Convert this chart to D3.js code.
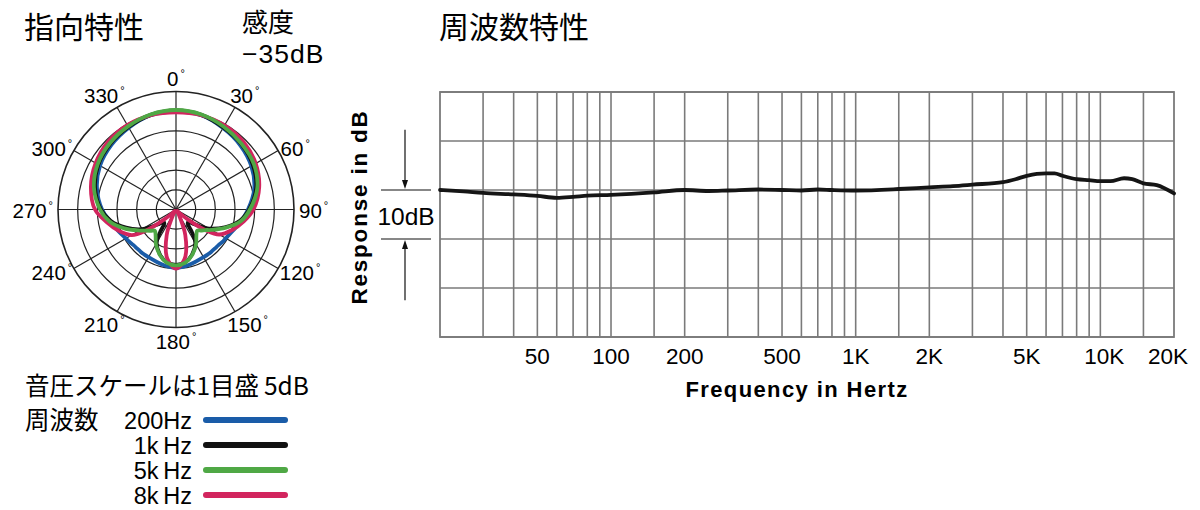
<!DOCTYPE html>
<html><head><meta charset="utf-8">
<script src="https://cdn.jsdelivr.net/npm/d3@7"></script>
<style>body{margin:0;background:#fff} svg{display:block}</style>
</head><body><svg id="c" width="1200" height="510"></svg>
<script>
// ---------- Polar (directional) data: dB relative, -30 = centre, 0 = outer ring ----------
const polarAngles = [0,15,30,45,60,75,90,100,110,120,125,130,135,140,145,150,160,170,180,
                     190,200,210,215,220,225,230,235,240,250,260,270,285,300,315,330,345];
const polar200Hz = [-5.1,-5.2,-6.1,-6.9,-7.9,-9.4,-11.7,-13.2,-14.5,-15.4,-15.6,-15.9,-16.0,-16.0,-16.0,-16.0,-15.8,-15.4,-15.1,
                    -15.4,-15.8,-16.0,-16.0,-16.0,-16.0,-15.9,-15.6,-15.3,-14.3,-13.0,-11.2,-9.2,-7.7,-6.8,-6.0,-5.2];
const polar1kHz  = [-4.8,-5.1,-5.9,-6.5,-7.4,-8.9,-11.4,-13.5,-16.8,-20.3,-22.6,-24.4,-25.5,-25.4,-22.9,-20.2,-17.9,-16.4,-15.9,
                    -16.4,-17.9,-20.2,-22.9,-25.4,-25.5,-24.2,-22.3,-20.0,-16.5,-13.2,-10.9,-8.7,-7.2,-6.4,-5.8,-5.1];
const polar5kHz  = [-4.7,-5.0,-5.7,-6.4,-7.1,-8.6,-11.2,-13.2,-16.5,-19.6,-20.9,-21.7,-22.4,-21.9,-21.0,-19.8,-17.8,-16.3,-15.8,
                    -16.3,-17.8,-19.8,-21.0,-21.9,-22.4,-21.6,-20.6,-19.3,-16.0,-12.8,-10.7,-8.4,-7.0,-6.2,-5.6,-5.0];
const polar8kHz  = [-5.3,-5.2,-5.3,-5.7,-6.6,-8.1,-10.3,-12.5,-14.8,-17.3,-20.9,-25.9,-28.7,-29.5,-29.5,-28.7,-23.1,-17.3,-15.0,
                    -17.3,-23.1,-28.7,-29.5,-29.5,-28.7,-25.9,-20.6,-17.0,-14.4,-12.0,-9.4,-7.6,-6.4,-5.6,-5.2,-5.2];
const polarRingDb = [-25,-20,-15,-10,-5,0];
const polarSpokeDeg = [0,30,60,90,120,150,180,210,240,270,300,330];
const legendLabels = ["200Hz","1k\u2009Hz","5k\u2009Hz","8k\u2009Hz"];
const legendColors = ["#1a5ca8","#111111","#4fa845","#d2255e"];

// ---------- Frequency response data ----------
const freqHz = [20,25,30,40,50,60,70,80,100,150,200,250,300,400,500,600,700,800,1000,1500,2000,2500,3000,4000,4500,
                5000,5500,6000,6500,7000,8000,9000,10000,11000,12500,13500,15000,17000,20000];
const responseDb = [0,-0.3,-0.6,-0.9,-1.2,-1.6,-1.4,-1.15,-1.0,-0.5,0,-0.2,-0.1,0.1,0,-0.1,0.1,0,-0.1,0.2,0.55,0.8,1.1,1.6,2.2,
                    2.9,3.3,3.4,3.4,2.9,2.2,2.0,1.8,1.8,2.4,2.2,1.35,1.0,-0.7];
const freqGridHz = [30,40,50,60,70,80,90,100,150,200,300,400,500,600,700,800,900,1000,1500,
                    2000,3000,4000,5000,6000,7000,8000,9000,10000,15000];
const freqTickHz = [50,100,200,500,1000,2000,5000,10000,20000];
const freqTickLabels = ["50","100","200","500","1K","2K","5K","10K","20K"];
const dbGridLines = [-30,-20,-10,0,10,20];

const JP = "'Noto Sans CJK JP', sans-serif";
const LAT = "'Liberation Sans', Arial, sans-serif";
const svg = d3.select("#c");
svg.append("rect").attr("width",1200).attr("height",510).attr("fill","#fff");

// ---------- Titles ----------
svg.append("text").attr("x",24).attr("y",38).attr("font-family",JP).attr("font-size",30).text("指向特性");
svg.append("text").attr("x",242).attr("y",32).attr("font-family",JP).attr("font-size",26).text("感度");
svg.append("text").attr("x",242).attr("y",63).attr("font-family",LAT).attr("font-size",26.5).attr("letter-spacing",1).text("\u221235dB");
svg.append("text").attr("x",439).attr("y",38).attr("font-family",JP).attr("font-size",30).text("周波数特性");

// ---------- Polar chart ----------
const cx = 176, cy = 209.5, R = 118;
const rScale = d3.scaleLinear().domain([-30,0]).range([0,R]);
const pg = svg.append("g").attr("transform",`translate(${cx},${cy})`);
pg.selectAll("circle.ring").data(polarRingDb).join("circle")
  .attr("r",d=>rScale(d)).attr("fill","none").attr("stroke","#222")
  .attr("stroke-width",d=>d===0?1.6:1.2);
pg.selectAll("line.spoke").data(polarSpokeDeg).join("line")
  .attr("x1",0).attr("y1",0)
  .attr("x2",d=>R*Math.sin(d*Math.PI/180)).attr("y2",d=>-R*Math.cos(d*Math.PI/180))
  .attr("stroke","#222").attr("stroke-width",1.2);

const radial = d3.lineRadial()
  .angle(d=>d.a*Math.PI/180).radius(d=>rScale(d.v))
  .curve(d3.curveCatmullRomClosed.alpha(0.5));
const polarSeries = [polar200Hz, polar1kHz, polar8kHz, polar5kHz];
const polarColors = [legendColors[0], legendColors[1], legendColors[3], legendColors[2]];
polarSeries.forEach((vals,i)=>{
  pg.append("path").datum(polarAngles.map((a,j)=>({a, v: vals[j]})))
    .attr("d",radial).attr("fill","none").attr("stroke",polarColors[i])
    .attr("stroke-width",3.8).attr("stroke-linejoin","round");
});

// angle labels
polarSpokeDeg.forEach(a=>{
  const s = Math.sin(a*Math.PI/180), c = Math.cos(a*Math.PI/180);
  const t = pg.append("text").attr("font-family",LAT).attr("font-size",20.5)
    .attr("text-anchor","middle").attr("dominant-baseline","central");
  t.append("tspan").text(a);
  t.append("tspan").attr("font-size",11).attr("dx",2).attr("dy",-5).text("°");
  const w = t.node().getComputedTextLength();
  const x = 124*s + s*w/2;
  const y = -124*c - (Math.abs(c)>0.7 ? Math.sign(c)*7.5 : 0);
  t.attr("x",x).attr("y",y);
});

// legend
svg.append("text").attr("x",25).attr("y",395).attr("font-family",JP).attr("font-size",24.5)
  .text("音圧スケールは1目盛\u20095dB");
svg.append("text").attr("x",25).attr("y",429).attr("font-family",JP).attr("font-size",24.5).text("周波数");
legendLabels.forEach((lab,i)=>{
  const y = 420 + i*25;
  svg.append("text").attr("x",192).attr("y",y+8.5).attr("text-anchor","end")
    .attr("font-family",LAT).attr("font-size",23.5).text(lab);
  svg.append("line").attr("x1",206).attr("x2",285).attr("y1",y).attr("y2",y)
    .attr("stroke",legendColors[i]).attr("stroke-width",6).attr("stroke-linecap","round");
});

// ---------- Frequency response chart ----------
const x = d3.scaleLog().domain([20,20000]).range([440,1174]);
const y = d3.scaleLinear().domain([-30,20]).range([337,92]);
const fg = svg.append("g");
fg.selectAll("line.v").data(freqGridHz).join("line")
  .attr("x1",d=>x(d)).attr("x2",d=>x(d)).attr("y1",y(20)).attr("y2",y(-30))
  .attr("stroke","#7a7a7a").attr("stroke-width",1.6);
fg.selectAll("line.h").data(dbGridLines).join("line")
  .attr("x1",x(20)).attr("x2",x(20000)).attr("y1",d=>y(d)).attr("y2",d=>y(d))
  .attr("stroke","#7a7a7a").attr("stroke-width",1.6);
fg.append("rect").attr("x",x(20)).attr("y",y(20)).attr("width",x(20000)-x(20)).attr("height",y(-30)-y(20))
  .attr("fill","none").attr("stroke","#7a7a7a").attr("stroke-width",1.8);

const line = d3.line().x((d,i)=>x(freqHz[i])).y(d=>y(d)).curve(d3.curveMonotoneX);
fg.append("path").datum(responseDb).attr("d",line).attr("fill","none")
  .attr("stroke","#151515").attr("stroke-width",3.8).attr("stroke-linecap","round").attr("stroke-linejoin","round");

freqTickHz.forEach((f,i)=>{
  fg.append("text").attr("x",x(f) + (f===20000?-6:(f===10000?4:0))).attr("y",364)
    .attr("text-anchor","middle").attr("font-family",LAT).attr("font-size",22.5).text(freqTickLabels[i]);
});
fg.append("text").attr("x",797).attr("y",397).attr("text-anchor","middle")
  .attr("font-family",LAT).attr("font-weight","bold").attr("font-size",22).attr("letter-spacing",1.4).text("Frequency in Hertz");
fg.append("text").attr("transform",`translate(367,207) rotate(-90)`).attr("text-anchor","middle")
  .attr("font-family",LAT).attr("font-weight","bold").attr("font-size",22.5).attr("letter-spacing",1.8).text("Response in dB");

// 10 dB scale marker
const ax = 405;
fg.append("line").attr("x1",381).attr("x2",431).attr("y1",y(0)).attr("y2",y(0)).attr("stroke","#111").attr("stroke-width",1.2);
fg.append("line").attr("x1",381).attr("x2",431).attr("y1",y(-10)).attr("y2",y(-10)).attr("stroke","#111").attr("stroke-width",1.2);
fg.append("line").attr("x1",ax).attr("x2",ax).attr("y1",y(12.3)).attr("y2",y(0)-8).attr("stroke","#111").attr("stroke-width",1.2);
fg.append("line").attr("x1",ax).attr("x2",ax).attr("y1",y(-22.5)).attr("y2",y(-10)+8).attr("stroke","#111").attr("stroke-width",1.2);
fg.append("path").attr("d",`M${ax-3},${y(0)-10} L${ax+3},${y(0)-10} L${ax},${y(0)-1} Z`).attr("fill","#111");
fg.append("path").attr("d",`M${ax-3},${y(-10)+10} L${ax+3},${y(-10)+10} L${ax},${y(-10)+1} Z`).attr("fill","#111");
fg.append("text").attr("x",406).attr("y",225).attr("text-anchor","middle")
  .attr("font-family",LAT).attr("font-size",24.5).text("10dB");
</script></body></html>
